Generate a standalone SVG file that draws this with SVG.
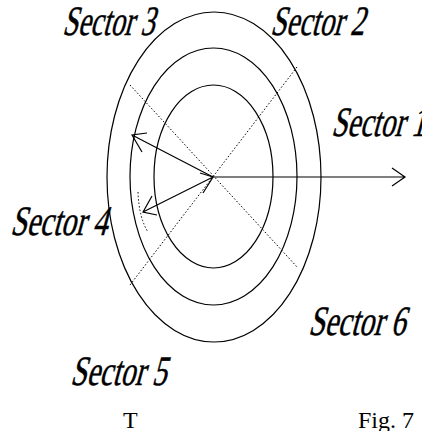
<svg xmlns="http://www.w3.org/2000/svg" width="422" height="431" viewBox="0 0 422 431">
<style>
.ring{fill:none;stroke:#000;stroke-width:1.2}
.dot{fill:none;stroke:#000;stroke-width:1;stroke-dasharray:1.5 2}
.arr{fill:none;stroke:#000;stroke-width:1.2}
.lbl{font-size:42px;fill:#000;stroke:#000;stroke-width:0.5}
.cap{font-size:24px;fill:#000}
</style>
<rect width="422" height="431" fill="#fff"/>
<g id="rings">
<ellipse class="ring" cx="214" cy="177" rx="107" ry="165"/>
<ellipse class="ring" cx="213.5" cy="176.5" rx="83.5" ry="128.5"/>
<ellipse class="ring" cx="213.5" cy="176.5" rx="59.5" ry="91.5"/>
</g>
<g id="connectors">
<line class="dot" x1="130" y1="85" x2="298" y2="268"/>
<line class="dot" x1="297" y1="67" x2="130" y2="285"/>
<path class="dot" d="M138,192 Q139,218 148,232"/>
<path class="arr" d="M213,177 H405 M392,168 L405,177 L392,186"/>
<path class="arr" d="M213,177 L132,135 M147,133 L132,135 L142,152"/>
<path class="arr" d="M213,177 L143,212 M152,196 L143,212 L157,215 M200,173 L213,177 L203,193"/>
</g>
<g font-family="'Liberation Serif', serif">
<g id="sector1" transform="translate(331,136) skewX(-15)"><text class="lbl" x="0" y="0" textLength="94" lengthAdjust="spacingAndGlyphs">Sector 1</text></g>
<g id="sector2" transform="translate(270,35) skewX(-15)"><text class="lbl" x="0" y="0" textLength="94" lengthAdjust="spacingAndGlyphs">Sector 2</text></g>
<g id="sector3" transform="translate(62,35) skewX(-15)"><text class="lbl" x="0" y="0" textLength="92" lengthAdjust="spacingAndGlyphs">Sector 3</text></g>
<g id="sector4" transform="translate(10,235) skewX(-15)"><text class="lbl" x="0" y="0" textLength="97" lengthAdjust="spacingAndGlyphs">Sector 4</text></g>
<g id="sector5" transform="translate(70,385) skewX(-15)"><text class="lbl" x="0" y="0" textLength="96" lengthAdjust="spacingAndGlyphs">Sector 5</text></g>
<g id="sector6" transform="translate(308,335) skewX(-15)"><text class="lbl" x="0" y="0" textLength="97" lengthAdjust="spacingAndGlyphs">Sector 6</text></g>
<g id="captions">
<text class="cap" x="123" y="428">T</text>
<text class="cap" x="358" y="428">Fig. 7</text>
</g>
</g>
</svg>
